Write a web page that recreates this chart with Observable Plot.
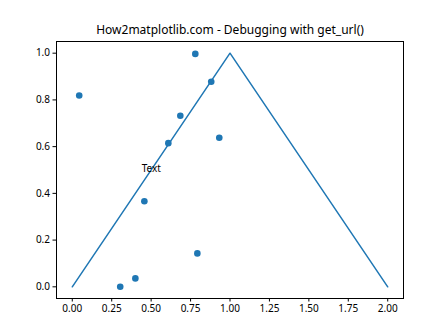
<!DOCTYPE html>
<html><head><meta charset="utf-8">
<script src="https://cdn.jsdelivr.net/npm/d3@7"></script>
<script src="https://cdn.jsdelivr.net/npm/@observablehq/plot@0.6"></script>
<style>body{margin:0;background:#fff;} svg{display:block;}</style>
</head><body><div id="chart"></div>
<script>
const title = "How2matplotlib.com - Debugging with get_url()";
const lineX = [0, 1, 2];
const lineY = [0, 1, 0];
const scatterX = [0.044, 0.780, 0.881, 0.685, 0.609, 0.932, 0.457, 0.793, 0.400, 0.304];
const scatterY = [0.819, 0.997, 0.878, 0.732, 0.615, 0.638, 0.366, 0.143, 0.036, 0.0];
const label = {x: 0.44, y: 0.49, text: "Text"};
const xTicks = [0, 0.25, 0.5, 0.75, 1.0, 1.25, 1.5, 1.75, 2.0];
const yTicks = [0, 0.2, 0.4, 0.6, 0.8, 1.0];

const lineData = lineX.map((x, i) => ({x, y: lineY[i]}));
const pts = scatterX.map((x, i) => ({x, y: scatterY[i]}));
const font = "'Noto Sans', 'DejaVu Sans', sans-serif";
const blue = "#1f77b4";

const chart = Plot.plot({
  width: 448, height: 336,
  marginLeft: 56, marginRight: 45, marginTop: 41, marginBottom: 38,
  style: {fontFamily: font, fontSize: "10px", color: "#000", background: "#fff"},
  x: {domain: [-0.1, 2.1], label: null},
  y: {domain: [-0.05, 1.05], label: null},
  marks: [
    Plot.frame({stroke: "#000", strokeWidth: 1}),
    Plot.axisX({ticks: xTicks, tickFormat: d3.format(".2f"), tickSize: 3.5, tickPadding: 3, fontSize: 10, stroke: "#000"}),
    Plot.axisY({ticks: yTicks, tickFormat: d3.format(".1f"), tickSize: 3.5, tickPadding: 3, fontSize: 10, stroke: "#000"}),
    Plot.line(lineData, {x: "x", y: "y", stroke: blue, strokeWidth: 1.5}),
    Plot.dot(pts, {x: "x", y: "y", r: 3.3, fill: blue, stroke: "none"}),
    Plot.text([label], {x: "x", y: "y", text: "text", textAnchor: "start", lineAnchor: "bottom", fontSize: 10, fill: "#000"}),
    Plot.text([title], {frameAnchor: "top", dy: -16, fontSize: 12, fill: "#000"})
  ]
});
document.getElementById("chart").append(chart);
</script></body></html>
